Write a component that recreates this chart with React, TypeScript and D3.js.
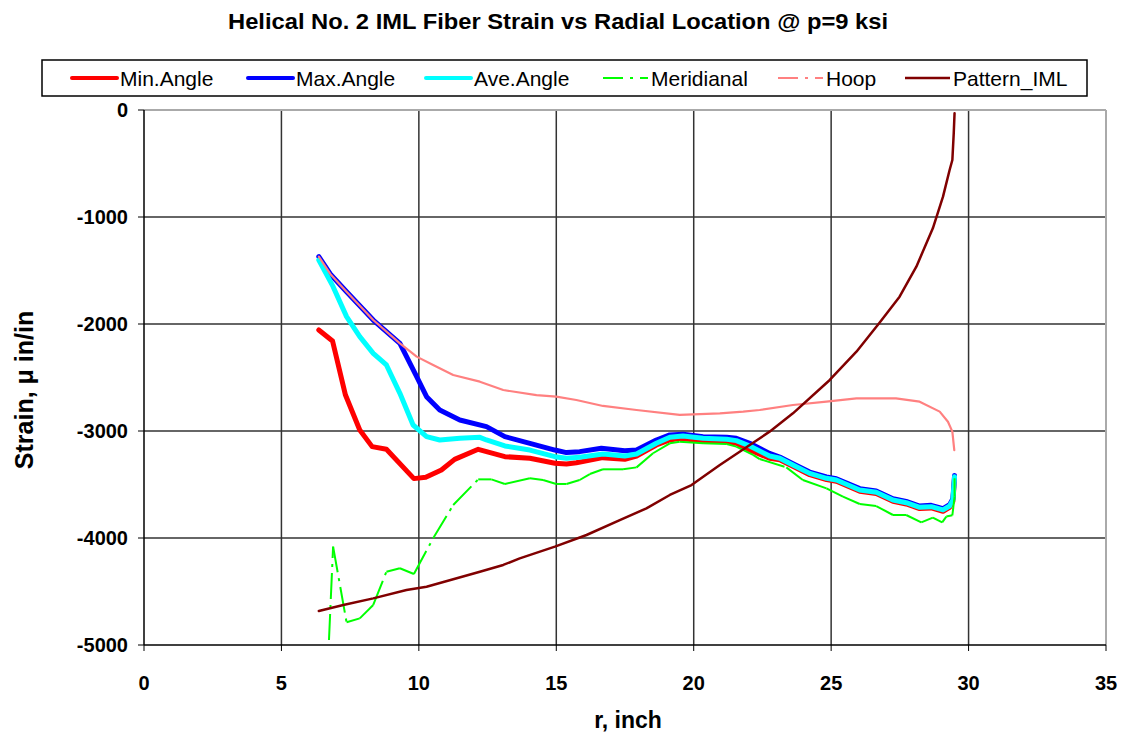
import React from "react";
import * as d3 from "d3";

const title = "Helical No. 2 IML Fiber Strain vs Radial Location @ p=9 ksi";
const xTicks = [0, 5, 10, 15, 20, 25, 30, 35];
const yTicks = [0, -1000, -2000, -3000, -4000, -5000];

const minAngle: [number, number][] = [
  [6.36, -2056], [6.86, -2159], [7.33, -2664], [7.85, -2991], [8.3, -3146], [8.82, -3171],
  [9.82, -3445], [10.25, -3433], [10.82, -3364], [11.3, -3265], [12.16, -3171], [13.13, -3240],
  [14.04, -3255], [14.95, -3302], [15.37, -3308], [15.73, -3296], [16.69, -3249], [17.49, -3264],
  [17.92, -3234], [18.64, -3131], [19.13, -3084], [19.49, -3068], [20.34, -3093], [21.2, -3100],
  [21.55, -3115], [22.04, -3178], [22.76, -3255], [23.13, -3268], [23.61, -3330], [24.22, -3408],
  [24.83, -3454], [25.19, -3470], [26.04, -3563], [26.64, -3585], [27.25, -3657], [27.73, -3682],
  [28.22, -3725], [28.64, -3719], [29.07, -3750], [29.31, -3713], [29.43, -3657], [29.49, -3440],
];

const maxAngle: [number, number][] = [
  [6.36, -1371], [6.8, -1540], [7.37, -1698], [8.34, -1963], [9.31, -2181], [9.92, -2492],
  [10.28, -2679], [10.76, -2804], [11.49, -2897], [12.46, -2959], [13.13, -3053], [14.04, -3115],
  [14.95, -3178], [15.37, -3202], [15.85, -3193], [16.64, -3162], [17.49, -3184], [17.92, -3178],
  [18.64, -3084], [19.13, -3037], [19.61, -3031], [20.34, -3053], [21.2, -3059], [21.55, -3068],
  [22.04, -3115], [22.76, -3209], [23.13, -3243], [23.61, -3306], [24.22, -3384], [24.83, -3430],
  [25.19, -3446], [26.04, -3539], [26.64, -3561], [27.25, -3633], [27.73, -3658], [28.22, -3701],
  [28.64, -3695], [29.07, -3726], [29.31, -3689], [29.43, -3633], [29.49, -3415],
];

const aveAngle: [number, number][] = [
  [6.36, -1402], [6.88, -1651], [7.37, -1931], [7.85, -2118], [8.34, -2274], [8.82, -2383],
  [9.31, -2648], [9.79, -2944], [10.28, -3053], [10.76, -3084], [11.49, -3068], [12.22, -3059],
  [12.46, -3084], [13.13, -3140], [14.04, -3178], [14.95, -3240], [15.37, -3255], [15.85, -3246],
  [16.7, -3215], [17.49, -3234], [17.92, -3215], [18.64, -3115], [19.13, -3059], [19.61, -3047],
  [20.34, -3068], [21.2, -3078], [21.55, -3090], [22.04, -3140], [22.76, -3234], [23.13, -3255],
  [23.61, -3318], [24.22, -3396], [24.83, -3442], [25.19, -3458], [26.04, -3551], [26.64, -3573],
  [27.25, -3645], [27.73, -3670], [28.22, -3713], [28.64, -3707], [29.07, -3738], [29.31, -3701],
  [29.43, -3645], [29.49, -3427],
];

const meridianal: [number, number][] = [
  [6.73, -4953], [6.88, -4081], [7.37, -4788], [7.85, -4751], [8.34, -4626], [8.82, -4315],
  [9.31, -4283], [9.82, -4336], [10.52, -4003], [11.25, -3692], [12.16, -3452], [12.64, -3452],
  [13.13, -3495], [14.04, -3442], [14.52, -3458], [15.0, -3495], [15.37, -3495], [15.85, -3458],
  [16.22, -3402], [16.7, -3358], [17.43, -3358], [17.92, -3340], [18.52, -3208], [19.13, -3115],
  [19.49, -3100], [20.34, -3115], [21.2, -3121], [21.55, -3146], [22.16, -3224], [22.4, -3262],
  [23.37, -3340], [23.97, -3458], [24.83, -3536], [25.43, -3614], [26.04, -3682], [26.64, -3701],
  [27.25, -3785], [27.73, -3785], [28.28, -3854], [28.7, -3810], [29.04, -3854], [29.19, -3800],
  [29.41, -3788], [29.49, -3614], [29.49, -3442],
];

const hoop: [number, number][] = [
  [6.36, -1371], [6.8, -1540], [7.37, -1698], [8.34, -1963], [9.31, -2181], [9.92, -2305],
  [10.52, -2383], [11.25, -2477], [12.22, -2539], [13.07, -2617], [14.28, -2664], [15.0, -2679],
  [15.73, -2710], [16.7, -2766], [17.92, -2804], [19.49, -2850], [19.98, -2844], [20.95, -2835],
  [21.8, -2819], [22.4, -2804], [23.61, -2757], [24.83, -2726], [25.92, -2695], [27.36, -2695],
  [28.22, -2726], [28.95, -2819], [29.25, -2913], [29.41, -3006], [29.48, -3178],
];

const patternIML: [number, number][] = [
  [6.36, -4682], [7.25, -4626], [8.34, -4564], [9.55, -4486], [10.28, -4455], [11.25, -4386],
  [12.22, -4315], [13.07, -4252], [13.67, -4190], [14.95, -4081], [16.1, -3972], [17.31, -3832],
  [18.28, -3723], [19.13, -3598], [19.92, -3505], [20.95, -3318], [22.04, -3131], [22.76, -3006],
  [23.61, -2835], [24.95, -2523], [25.92, -2259], [26.76, -1988], [27.49, -1745], [28.1, -1464],
  [28.7, -1106], [29.07, -810], [29.31, -561], [29.41, -467], [29.46, -218], [29.49, -31],
];

const seriesNames = ["Min.Angle", "Max.Angle", "Ave.Angle", "Meridianal", "Hoop", "Pattern_IML"];
const seriesColors = ["#FF0000", "#0000FF", "#00FFFF", "#00FF00", "#FF8080", "#800000"];

const W = 1123, H = 738;
const L = 144, R = 1106, T = 110, B = 645;
const FONT = "'Liberation Sans', Arial, sans-serif";
const DASH = "26,6,3,6";

export default function App() {
  const x = d3.scaleLinear().domain([0, 35]).range([L, R]);
  const y = d3.scaleLinear().domain([-5000, 0]).range([B, T]);
  const line = d3.line<[number, number]>().x(d => x(d[0])).y(d => y(d[1]));

  const series = [
    { data: minAngle, w: 5, lw: 4, dashed: false },
    { data: maxAngle, w: 5, lw: 4, dashed: false },
    { data: aveAngle, w: 5, lw: 4, dashed: false },
    { data: meridianal, w: 2, lw: 2.2, dashed: true },
    { data: hoop, w: 2.2, lw: 2.2, dashed: false },
    { data: patternIML, w: 2.5, lw: 2.5, dashed: false },
  ];

  const legendX = [72, 248, 426, 603, 778, 905];

  return (
    <svg width={W} height={H} style={{ position: "absolute", left: 0, top: 0, background: "#fff" }}
      fontFamily={FONT}>
      <rect x={0} y={0} width={W} height={H} fill="#fff" />
      <text x={558} y={29} textAnchor="middle" fontSize={22} fontWeight="bold"
        textLength={660} lengthAdjust="spacingAndGlyphs">{title}</text>

      {/* grid */}
      {xTicks.slice(1, -1).map(t => (
        <line key={"gx" + t} x1={x(t)} x2={x(t)} y1={T} y2={B} stroke="#333" strokeWidth={1.5} />
      ))}
      {yTicks.slice(1, -1).map(t => (
        <line key={"gy" + t} x1={L} x2={R} y1={y(t)} y2={y(t)} stroke="#333" strokeWidth={1.5} />
      ))}
      <line x1={L} x2={R} y1={T} y2={T} stroke="#aaa" strokeWidth={2} />
      <line x1={R} x2={R} y1={T} y2={B} stroke="#aaa" strokeWidth={2} />

      {/* axes */}
      <line x1={L} x2={L} y1={T} y2={B} stroke="#000" strokeWidth={1.5} />
      <line x1={L} x2={R} y1={B} y2={B} stroke="#000" strokeWidth={1.5} />
      {yTicks.map(t => (
        <g key={"yt" + t}>
          <line x1={L - 6} x2={L} y1={y(t)} y2={y(t)} stroke="#000" strokeWidth={1} />
          <text x={128} y={y(t) + 7} textAnchor="end" fontSize={20} fontWeight="bold">{t}</text>
        </g>
      ))}
      {xTicks.map(t => (
        <g key={"xt" + t}>
          <line x1={x(t)} x2={x(t)} y1={B} y2={B + 6} stroke="#000" strokeWidth={1} />
          <text x={x(t)} y={690} textAnchor="middle" fontSize={20} fontWeight="bold">{t}</text>
        </g>
      ))}
      <text x={628} y={728} textAnchor="middle" fontSize={23} fontWeight="bold">r, inch</text>
      <text transform={`translate(33,390) rotate(-90)`} textAnchor="middle" fontSize={25} fontWeight="bold">
        Strain, μ in/in
      </text>

      {/* series */}
      <g clipPath="url(#clip)">
        {series.map((s, i) =>
          s.dashed ? (
            <g key={i}>
              {d3.pairs(s.data).map((p, j) => (
                <path key={j} d={line(p as [number, number][]) || ""} fill="none" stroke={seriesColors[i]}
                  strokeWidth={s.w} strokeDasharray={DASH} />
              ))}
            </g>
          ) : (
            <path key={i} d={line(s.data) || ""} fill="none" stroke={seriesColors[i]} strokeWidth={s.w}
              strokeLinejoin="round" strokeLinecap="round" />
          )
        )}
      </g>
      <defs>
        <clipPath id="clip"><rect x={L} y={T - 3} width={R - L} height={B - T + 3} /></clipPath>
      </defs>

      {/* legend */}
      <rect x={42} y={60} width={1045} height={36} fill="#fff" stroke="#000" strokeWidth={1.5} />
      {seriesNames.map((n, i) => (
        <g key={n}>
          <line x1={legendX[i]} x2={legendX[i] + 45} y1={78} y2={78} stroke={seriesColors[i]}
            strokeWidth={series[i].lw} strokeLinecap={i < 3 ? "round" : "butt"}
            strokeDasharray={i === 3 || i === 4 ? "20,7,3,7" : undefined} />
          <text x={legendX[i] + 48} y={86} fontSize={21}>{n}</text>
        </g>
      ))}
    </svg>
  );
}
